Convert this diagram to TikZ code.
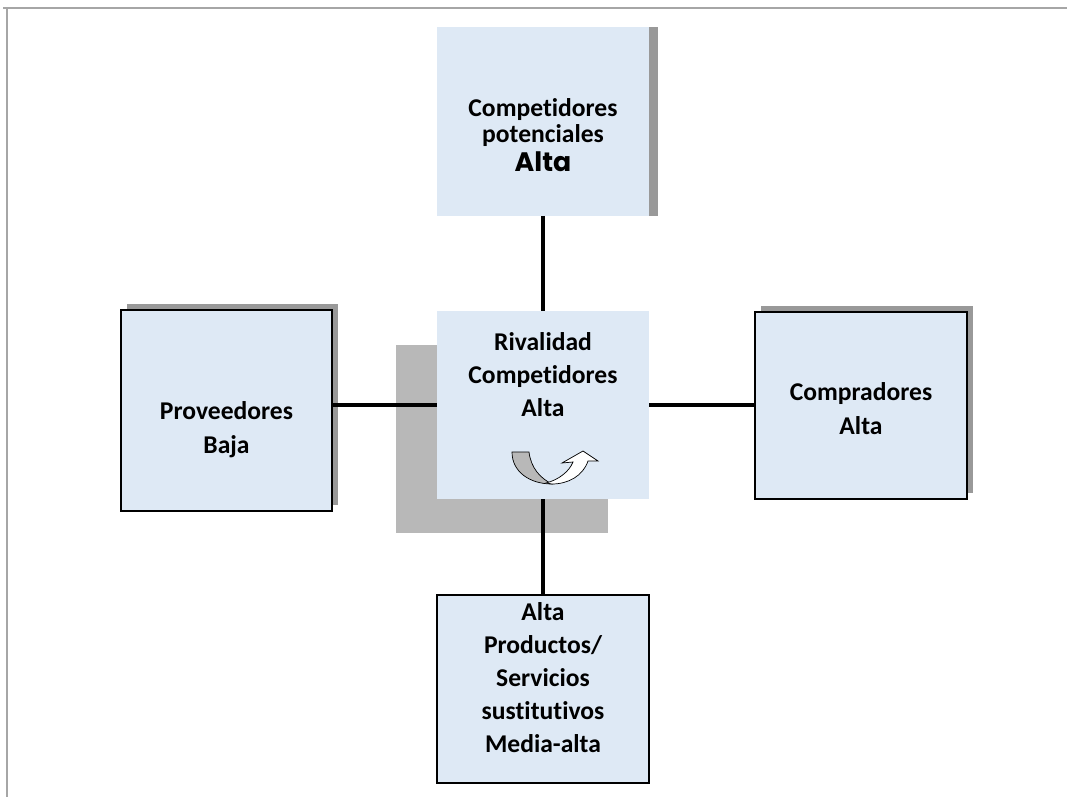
\documentclass[tikz,border=0pt]{standalone}
\usepackage{fontspec}
\setmainfont[Ligatures=NoCommon]{Carlito}
\newfontfamily\gothic{Poppins}
\usetikzlibrary{calc,shadows}
\definecolor{boxblue}{RGB}{222,233,245}
\definecolor{framegray}{RGB}{166,166,166}
\definecolor{shadegray}{RGB}{153,153,153}
\definecolor{backgray}{RGB}{184,184,184}

\begin{document}
\begin{tikzpicture}[x=0.025cm,y=-0.025cm,
    forcebox/.style={fill=boxblue,inner sep=0pt,minimum width=5.3cm,minimum height=4.7cm},
    outlined/.style={forcebox,draw=black,line width=1.1pt},
    framed/.style={outlined,
      drop shadow={shadow xshift=0.15cm,shadow yshift=0.15cm,fill=shadegray,opacity=1}},
    forcetext/.style={align=center,font=\bfseries\fontsize{18.2}{24}\selectfont},
    link/.style={line width=3.5pt}]
          \useasboundingbox (0,0) rectangle (1067,797);
          \draw[framegray,line width=1.2pt] (3,8) -- (1067,8);
          \draw[framegray,line width=1.2pt] (7,8) -- (7,797);
          % the five forces
          \node[forcebox,drop shadow={shadow xshift=0.225cm,shadow yshift=0cm,fill=shadegray,opacity=1}] (entrants) at (543,121.5) {};
          \node[forcebox,drop shadow={shadow xshift=-1.025cm,shadow yshift=-0.85cm,fill=backgray,opacity=1}] (rivalry) at (543,405) {};
          \node[framed,minimum width=5.275cm,minimum height=5.025cm] (suppliers) at (226.5,410.5) {};
          \node[framed,minimum height=4.675cm] (buyers) at (861,405.5) {};
          \node[outlined] (substitutes) at (543,689) {};
          \node[forcetext,font=\bfseries\fontsize{18.2}{18}\selectfont] (entrantsText) at ($(entrants.center)+(0,14)$)
            {Competidores\\potenciales\\[3pt]{\gothic\fontsize{19}{22}\selectfont Alta}};
          \node[forcetext,font=\bfseries\fontsize{18.2}{23.5}\selectfont] (rivalryText) at ($(rivalry.center)+(0,-30)$) {Rivalidad\\Competidores\\Alta};
          \node[forcetext] (suppliersText) at ($(suppliers.center)+(0,19.5)$) {Proveedores\\Baja};
          \node[forcetext] (buyersText) at ($(buyers.center)+(0,3)$) {Compradores\\Alta};
          \node[forcetext,font=\bfseries\fontsize{18.2}{23.5}\selectfont] (substitutesText) at ($(substitutes.center)+(0,-11)$)
            {Alta\\Productos/\\Servicios\\sustitutivos\\Media-alta};
          % connectors
          \draw[link] (entrants.south) -- (rivalry.north);
          \draw[link] (rivalry.south) -- (substitutes.north);
          \draw[link] (rivalry.west) -- (suppliers.east |- rivalry.west);
          \draw[link] (rivalry.east) -- (buyers.west |- rivalry.east);
          % u-turn arrow
          \draw[line width=0.5pt,fill=backgray] (512,452) -- (529,452) .. controls (531,468) and (540,478) .. (552,484)
            .. controls (530,484) and (512,472) .. cycle;
          \draw[line width=0.5pt,fill=white] (546,483) .. controls (558,480) and (569,472) .. (573,462) -- (562,463)
            -- (583,451) -- (598,461) -- (588,461) .. controls (583,476) and (568,484) .. (552,484) -- cycle;
        \end{tikzpicture}
\end{document}
